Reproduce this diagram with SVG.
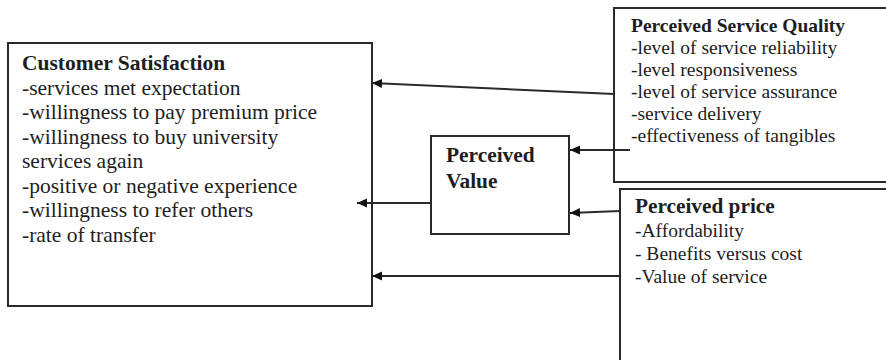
<svg xmlns="http://www.w3.org/2000/svg" width="886" height="360" viewBox="0 0 886 360">
  <style>
    .box { fill: #ffffff; stroke: #2a2a2a; stroke-width: 2; }
    .t { font-family: "Liberation Serif", "DejaVu Serif", serif; font-weight: normal; fill: #1e1e1e; }
    .b { font-weight: bold; }
    .edge { stroke: #2a2a2a; stroke-width: 2; fill: none; marker-end: url(#arr); }
  </style>
  <defs>
    <marker id="arr" markerUnits="userSpaceOnUse" markerWidth="11" markerHeight="10" refX="10" refY="4.5" orient="auto">
      <path d="M0,0 L10,4.5 L0,9 z" fill="#111"/>
    </marker>
  </defs>
  <rect width="886" height="360" fill="#ffffff"/>

  <g id="customer-satisfaction">
    <rect class="box" x="8" y="43" width="364" height="263"/>
    <text class="t b" font-size="21.5" x="22" y="70">Customer Satisfaction</text>
    <text class="t" font-size="21.5" x="22" y="94.5">-services met expectation</text>
    <text class="t" font-size="21.5" x="22" y="119">-willingness to pay premium price</text>
    <text class="t" font-size="21.5" x="22" y="143.5">-willingness to buy university</text>
    <text class="t" font-size="21.5" x="22" y="168">services again</text>
    <text class="t" font-size="21.5" x="22" y="192.5">-positive or negative experience</text>
    <text class="t" font-size="21.5" x="22" y="217">-willingness to refer others</text>
    <text class="t" font-size="21.5" x="22" y="241.5">-rate of  transfer</text>
  </g>

  <g id="perceived-value">
    <rect class="box" x="431" y="136" width="138" height="98"/>
    <text class="t b" font-size="21.4" x="446" y="162">Perceived</text>
    <text class="t b" font-size="21.4" x="446" y="188">Value</text>
  </g>

  <g id="perceived-service-quality">
    <rect class="box" x="614" y="8" width="290" height="174"/>
    <text class="t b" font-size="19.5" x="631" y="32">Perceived Service Quality</text>
    <text class="t" font-size="19.5" x="631" y="54">-level of service reliability</text>
    <text class="t" font-size="19.5" x="631" y="76">-level responsiveness</text>
    <text class="t" font-size="19.5" x="631" y="98">-level of service assurance</text>
    <text class="t" font-size="19.5" x="631" y="120">-service delivery</text>
    <text class="t" font-size="19.5" x="631" y="142">-effectiveness of tangibles</text>
  </g>

  <g id="perceived-price">
    <rect class="box" x="620" y="189" width="290" height="200"/>
    <text class="t b" font-size="21.3" x="635" y="213">Perceived price</text>
    <text class="t" font-size="19.5" x="635" y="237">-Affordability</text>
    <text class="t" font-size="19.5" x="635" y="260">- Benefits versus cost</text>
    <text class="t" font-size="19.5" x="635" y="283">-Value of service</text>
  </g>

  <g id="connectors">
    <line class="edge" x1="614" y1="94" x2="372" y2="83"/>
    <line class="edge" x1="630" y1="150" x2="570" y2="150"/>
    <line class="edge" x1="620" y1="211" x2="570" y2="213"/>
    <line class="edge" x1="431" y1="203" x2="357" y2="203"/>
    <line class="edge" x1="620" y1="276" x2="372" y2="276"/>
  </g>
</svg>
